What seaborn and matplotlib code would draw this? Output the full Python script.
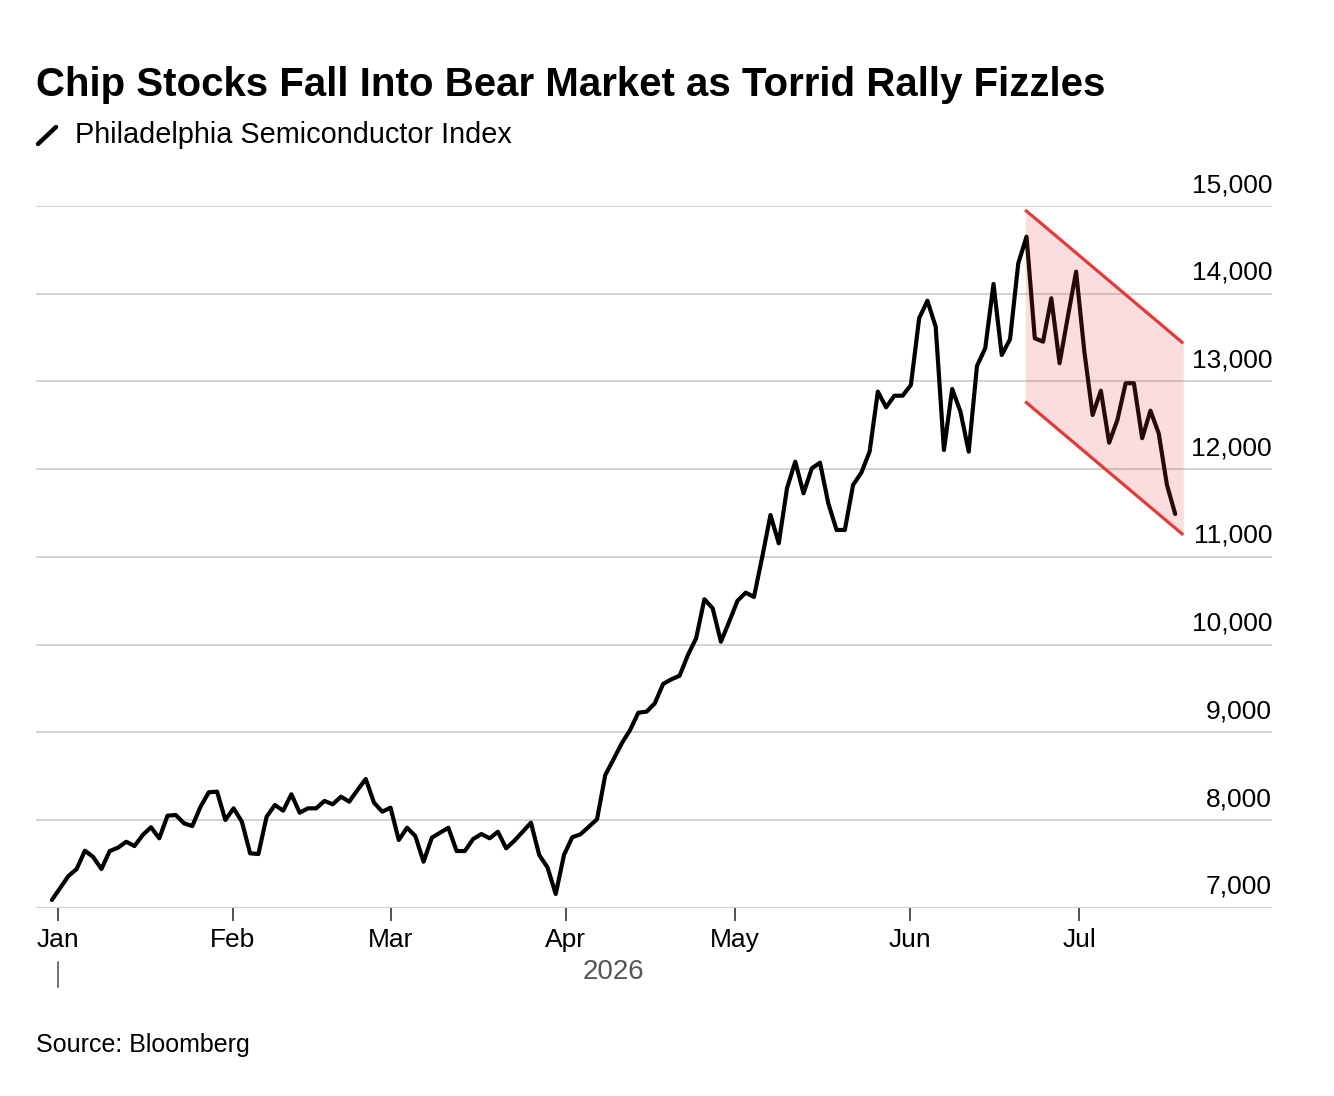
import matplotlib
matplotlib.use("Agg")
import matplotlib.pyplot as plt
import matplotlib.dates as mdates
import matplotlib.transforms as mtransforms
import numpy as np
import pandas as pd
import seaborn as sns

# Philadelphia Semiconductor Index (one value per session)
index_values = [
    7087, 7223, 7360, 7440, 7649, 7577, 7440, 7645, 7683, 7751,
    7702, 7828, 7916, 7790, 8048, 8056, 7961, 7930, 8151, 8315,
    8322, 7999, 8132, 7980, 7619, 7611, 8037, 8170, 8105, 8292,
    8082, 8132, 8132, 8216, 8178, 8265, 8208, 8341, 8466, 8196,
    8094, 8139, 7771, 7911, 7816, 7523, 7797, 7854, 7911, 7645,
    7645, 7782, 7839, 7790, 7865, 7676, 7763, 7865, 7968, 7600,
    7460, 7155, 7600, 7802, 7836, 7922, 8007, 8512, 8691, 8874,
    9025, 9222, 9234, 9330, 9550, 9603, 9644, 9880, 10071, 10516,
    10413, 10032, 10260, 10498, 10591, 10542, 10998, 11477, 11154, 11781,
    12085, 11724, 12009, 12073, 11610, 11306, 11306, 11819, 11959, 12199,
    12883, 12705, 12837, 12837, 12959, 13720, 13920, 13624, 12218, 12914,
    12655, 12199, 13176, 13378, 14111, 13301, 13480, 14347, 14650, 13492,
    13453, 13948, 13207, 13738, 14251, 13339, 12617, 12894, 12301, 12560,
    12979, 12979, 12352, 12666, 12408, 11819, 11488,
]
first_date = "2025-12-31"
last_date = "2026-07-18"

# bear-market channel drawn on the chart
channel_dates = ["2026-06-21 10:00", "2026-07-19 10:00"]
channel_upper = [14955, 13435]
channel_lower = [12770, 11250]

y_ticks = [7000, 8000, 9000, 10000, 11000, 12000, 13000, 14000, 15000]
month_ticks = ["2026-01-01", "2026-02-01", "2026-03-01", "2026-04-01",
               "2026-05-01", "2026-06-01", "2026-07-01"]

title = "Chip Stocks Fall Into Bear Market as Torrid Rally Fizzles"
legend_label = "Philadelphia Semiconductor Index"
source = "Source: Bloomberg"
year_label = "2026"

dates = pd.date_range(first_date, last_date, periods=len(index_values))
df = pd.DataFrame({"date": dates, "value": index_values})
ch_dates = pd.to_datetime(channel_dates)

sns.set_style("white")
plt.rcParams["font.family"] = ["Liberation Sans", "DejaVu Sans"]
plt.rcParams["text.color"] = "black"

W, H = 1334, 1096
fig = plt.figure(figsize=(W / 100, H / 100), dpi=100)
ax = fig.add_axes([36 / W, 1 - 907.6 / H, (1272 - 36) / W, (907.6 - 206) / H])

red = "#e63a3a"
grid_col = "#cccccc"

for v in y_ticks:
    ax.axhline(v, color=grid_col, lw=1.2, zorder=1)
    ax.annotate(f"{v:,}", xy=(1.0, v), xycoords=("axes fraction", "data"),
                xytext=(0, 10), textcoords="offset points",
                ha="right", va="baseline", fontsize=19, color="black")

sns.lineplot(data=df, x="date", y="value", ax=ax, color="black", lw=3.0,
             zorder=3, legend=False)

ax.fill_between(ch_dates, channel_lower, channel_upper, color=red,
                alpha=0.17, lw=0, zorder=4)
ax.plot(ch_dates, channel_upper, color=red, lw=2.3, zorder=5,
        solid_capstyle="butt")
ax.plot(ch_dates, channel_lower, color=red, lw=2.3, zorder=5,
        solid_capstyle="butt")

ax.set_ylim(7000, 15000)
ax.set_xlim(pd.Timestamp("2025-12-28 04:30"), pd.Timestamp("2026-08-04 03:30"))
ax.set_xlabel("")
ax.set_ylabel("")
ax.set_yticks([])
ax.set_xticks(pd.to_datetime(month_ticks))
ax.xaxis.set_major_formatter(mdates.DateFormatter("%b"))
ax.tick_params(axis="x", direction="out", length=9, width=1.2, color="#333333",
               pad=6, labelsize=19, labelcolor="black", bottom=True)
for s in ax.spines.values():
    s.set_visible(False)

# year marker below the month labels
blend = mtransforms.blended_transform_factory(ax.transData, fig.transFigure)
jan1 = pd.Timestamp(month_ticks[0])
ax.plot([jan1, jan1], [1 - 962 / H, 1 - 987 / H], transform=blend,
        color="#666666", lw=1.3, clip_on=False)
mid = dates[0] + (dates[-1] - dates[0]) / 2
ax.text(mid, 1 - 972 / H, year_label, transform=blend, ha="center",
        va="center", fontsize=20, color="#555555")

# title, legend key and source
fig.text(36 / W, 1 - 96 / H, title, fontsize=29, fontweight="bold",
         ha="left", va="baseline", color="black")
fig.lines.append(plt.Line2D([38 / W, 56 / W], [1 - 144 / H, 1 - 127 / H],
                            transform=fig.transFigure, color="black", lw=3.2))
fig.text(75 / W, 1 - 143 / H, legend_label, fontsize=20.8, ha="left",
         va="baseline", color="black")
fig.text(36 / W, 1 - 1052 / H, source, fontsize=18, ha="left",
         va="baseline", color="black")

fig.savefig("out.png", dpi=100, facecolor="white")
